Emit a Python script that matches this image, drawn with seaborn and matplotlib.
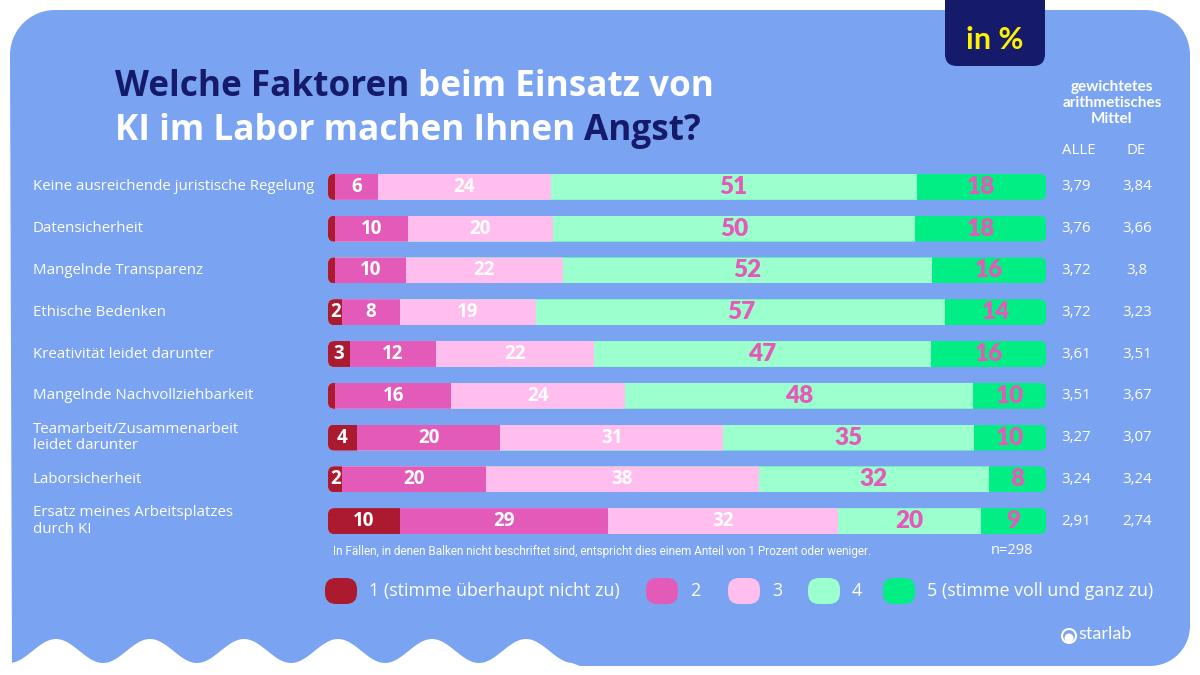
import numpy as np
import pandas as pd
import matplotlib
matplotlib.use("Agg")
import matplotlib.pyplot as plt
import matplotlib.transforms as mtransforms
from matplotlib.patches import FancyBboxPatch, PathPatch, Circle
from matplotlib.path import Path
import seaborn as sns

# Daten aus der Grafik (Anteile in %)
factors = [
    "Keine ausreichende juristische Regelung",
    "Datensicherheit",
    "Mangelnde Transparenz",
    "Ethische Bedenken",
    "Kreativität leidet darunter",
    "Mangelnde Nachvollziehbarkeit",
    "Teamarbeit/Zusammenarbeit\nleidet darunter",
    "Laborsicherheit",
    "Ersatz meines Arbeitsplatzes\ndurch KI",
]
s1 = [1, 1, 1, 2, 3, 1, 4, 2, 10]
s2 = [6, 10, 10, 8, 12, 16, 20, 20, 29]
s3 = [24, 20, 22, 19, 22, 24, 31, 38, 32]
s4 = [51, 50, 52, 57, 47, 48, 35, 32, 20]
s5 = [18, 18, 16, 14, 16, 10, 10, 8, 9]
mean_alle = ["3,79", "3,76", "3,72", "3,72", "3,61", "3,51", "3,27", "3,24", "2,91"]
mean_de = ["3,84", "3,66", "3,8", "3,23", "3,51", "3,67", "3,07", "3,24", "2,74"]
levels = ["1 (stimme überhaupt nicht zu)", "2", "3", "4", "5 (stimme voll und ganz zu)"]

colors = ["#AC1A2F", "#E45AB8", "#FFBEEE", "#9BFFCE", "#00EE84"]
label_colors = ["white", "white", "white", "#E45AB8", "#E45AB8"]
BG = "#7AA3F2"
NAVY = "#151A6A"
YELLOW = "#FFF200"

df = pd.DataFrame({"factor": factors, "1": s1, "2": s2, "3": s3, "4": s4, "5": s5})
cols = ["1", "2", "3", "4", "5"]
share = df[cols].div(df[cols].sum(axis=1), axis=0) * 100
cum = share.cumsum(axis=1)

sns.set_style("white")
plt.rcParams["font.family"] = ["Open Sans", "DejaVu Sans"]

fig = plt.figure(figsize=(12, 6.75), dpi=100)
fig.patch.set_facecolor("white")

# Hintergrund in Pixelkoordinaten
bg = fig.add_axes([0, 0, 1, 1])
bg.set_xlim(0, 1200)
bg.set_ylim(675, 0)
bg.axis("off")

def arc(cx, cy, r, a0, a1, n=20):
    t = np.radians(np.linspace(a0, a1, n))
    return list(zip(cx + r * np.cos(t), cy + r * np.sin(t)))

verts = []
verts += arc(55, 55, 45, 180, 270)
verts += arc(1145, 55, 45, 270, 360)
verts += arc(1150, 626, 40, 0, 90)
wx = np.linspace(572, 12, 300)
wy = 651 + 12 * np.cos(2 * np.pi * (wx - 103) / 94)
verts += [(580, 666)] + list(zip(wx, wy))
verts += [(10, 55)]
codes = [Path.MOVETO] + [Path.LINETO] * (len(verts) - 2) + [Path.CLOSEPOLY]
bg.add_patch(PathPatch(Path(verts, codes), facecolor=BG, edgecolor="none"))

# "in %" Kasten
bg.add_patch(FancyBboxPatch((945, -20), 100, 86, boxstyle="round,pad=0,rounding_size=12",
                            facecolor=NAVY, edgecolor="none"))
bg.text(995, 40, "in %", color=YELLOW, fontsize=22, fontweight="bold", family="Lato",
        ha="center", va="center")

# Titel zweifarbig
fig.canvas.draw()
renderer = fig.canvas.get_renderer()

def multicolor(x, y, parts, **kw):
    for txt, col in parts:
        t = bg.text(x, y, txt, color=col, **kw)
        bb = t.get_window_extent(renderer)
        x += bb.width

tkw = dict(fontsize=25.3, fontweight="bold", family="Open Sans", va="baseline", ha="left")
multicolor(115, 96, [("Welche Faktoren ", NAVY), ("beim Einsatz von", "white")], **tkw)
multicolor(115, 140, [("KI im Labor machen Ihnen ", "white"), ("Angst?", NAVY)], **tkw)

bg.text(1112, 103, "gewichtetes\narithmetisches\nMittel", color="white", fontsize=11,
        fontweight="bold", family="Lato", ha="center", va="center", linespacing=1.2)
bg.text(1079, 151, "ALLE", color="white", fontsize=10.8, ha="center", va="center")
bg.text(1136, 151, "DE", color="white", fontsize=10.8, ha="center", va="center")

# Balkendiagramm
ax = fig.add_axes([328 / 1200, 1 - 542 / 675, 718 / 1200, 376 / 675])
ax.patch.set_alpha(0)
for k in range(4, -1, -1):
    sns.barplot(x=cum[cols[k]], y=df["factor"], orient="h", color=colors[k],
                saturation=1, width=0.62, linewidth=0, ax=ax)
ax.set_xlim(0, 100)
ax.set_xlabel("")
ax.set_ylabel("")
ax.set_xticks([])
ax.set_yticks([])
sns.despine(ax=ax, left=True, bottom=True)

# abgerundete Balkenenden
clips = []
for i in range(len(factors)):
    clips.append(FancyBboxPatch((0, i - 0.31), 100, 0.62,
                                boxstyle="round,pad=0,rounding_size=0.9",
                                mutation_aspect=0.17, transform=ax.transData))
for p in ax.patches:
    row = int(round(p.get_y() + p.get_height() / 2))
    p.set_clip_path(clips[row])

for i in range(len(factors)):
    for k, c in enumerate(cols):
        v = df.loc[i, c]
        if v < 2:
            continue
        xc = cum.loc[i, c] - share.loc[i, c] / 2
        if k < 3:
            ax.text(xc, i, str(v), color=label_colors[k], fontsize=13.5, fontweight="bold",
                    family="Open Sans", ha="center", va="center")
        else:
            ax.text(xc, i, str(v), color=label_colors[k], fontsize=17.5, fontweight="heavy",
                    family="Lato", ha="center", va="center")

trans = mtransforms.blended_transform_factory(fig.transFigure, ax.transData)
for i, f in enumerate(factors):
    ax.text(33 / 1200, i, f, transform=trans, color="white", fontsize=10.8,
            ha="left", va="center", linespacing=1.15)
    ax.text(1076 / 1200, i, mean_alle[i], transform=trans, color="white", fontsize=10.8,
            ha="center", va="center")
    ax.text(1137 / 1200, i, mean_de[i], transform=trans, color="white", fontsize=10.8,
            ha="center", va="center")

# Fußnote
bg.text(333, 551, "In Fällen, in denen Balken nicht beschriftet sind, entspricht dies einem "
        "Anteil von 1 Prozent oder weniger.", color="white", fontsize=8.5, family="Roboto",
        ha="left", va="center")
bg.text(1012, 551, "n=298", color="white", fontsize=10.5, ha="center", va="center")

# Legende
leg_x = [325, 646, 728, 808, 883]
for k, lab in enumerate(levels):
    bg.add_patch(FancyBboxPatch((leg_x[k], 578), 32, 26,
                                boxstyle="round,pad=0,rounding_size=11",
                                facecolor=colors[k], edgecolor="none"))
    bg.text(leg_x[k] + 44, 591, lab, color="white", fontsize=12.9, ha="left", va="center")

# Logo
bg.add_patch(Circle((1069, 636), 7, facecolor="none", edgecolor="white", lw=1.5))
bg.add_patch(Circle((1069, 638), 4.5, facecolor="white", edgecolor="none"))
bg.text(1078, 634, "starlab", color="white", fontsize=13, family="Lato",
        ha="left", va="center")

fig.savefig("out.png", dpi=100)
